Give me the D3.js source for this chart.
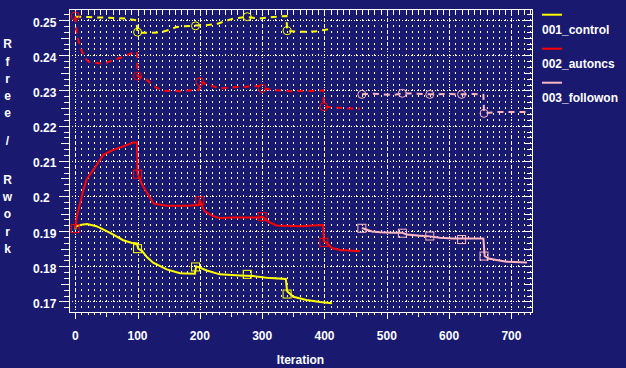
<!DOCTYPE html>
<html><head><meta charset="utf-8">
<script src="https://cdn.jsdelivr.net/npm/d3@7"></script>
<style>
html,body{margin:0;padding:0;background:#191970;}
svg{display:block;}
text{font-family:"Liberation Sans",Arial,Helvetica,sans-serif;font-weight:bold;font-size:12px;fill:#fff;}
</style></head><body>
<svg id="chart" width="626" height="368"></svg>
<script>
// ---------- data ----------
const seriesNames = ["001_control", "002_autoncs", "003_followon"];
const seriesColors = ["#ffff00", "#ff0000", "#ffb6c1"];

const controlIter  = [0,1,10,19,34,56,77,90,99,101,107,115,125,147,168,192,194,200,211,232,264,286,307,338,340,350,371,393,412];
const controlRwork = [0.1905,0.1914,0.1918,0.1920,0.1914,0.1895,0.1874,0.1867,0.1865,0.1850,0.1844,0.1826,0.1810,0.1791,0.1780,0.1779,0.1800,0.1796,0.1788,0.1777,0.1774,0.1772,0.1767,0.1764,0.1729,0.1713,0.1704,0.1698,0.1695];
const controlFreeIter = [0,20,50,80,98,100,115,136,150,163,193,211,227,240,254,275,296,318,339,340,361,385,406];
const controlRfree = [0.2510,0.2509,0.2507,0.2505,0.2500,0.2465,0.2464,0.2465,0.2472,0.2481,0.2485,0.2486,0.2489,0.2497,0.2505,0.2509,0.2505,0.2509,0.2512,0.2469,0.2467,0.2468,0.2474];

const autoIter  = [0,2,4,8,12,18,29,45,61,77,93,99,100,104,109,117,126,147,179,198,200,202,205,208,222,232,254,296,300,312,323,361,382,398,399,404,412,425,446,457];
const autoRwork = [0.1907,0.1935,0.1952,0.1980,0.2010,0.2046,0.2074,0.2117,0.2131,0.2141,0.2152,0.2152,0.2063,0.2046,0.2027,0.2004,0.1978,0.1972,0.1972,0.1974,0.1987,0.1980,0.1965,0.1956,0.1942,0.1937,0.1939,0.1939,0.1941,0.1925,0.1916,0.1914,0.1916,0.1917,0.1871,0.1865,0.1852,0.1846,0.1844,0.1843];
const autoFreeIter = [0,2,5,10,15,21,40,50,61,77,93,99,100,115,125,141,168,189,199,200,211,232,254,275,296,300,323,345,393,398,399,414,436,457];
const autoRfree = [0.2511,0.2470,0.2443,0.2415,0.2395,0.2382,0.2377,0.2379,0.2387,0.2396,0.2408,0.2410,0.2341,0.2330,0.2313,0.2299,0.2298,0.2301,0.2302,0.2325,0.2318,0.2306,0.2309,0.2311,0.2313,0.2306,0.2301,0.2298,0.2299,0.2301,0.2254,0.2252,0.2249,0.2248];

const followIter  = [460,468,476,489,510,525,532,553,569,585,607,639,655,657,663,676,692,725];
const followRwork = [0.1909,0.1904,0.1899,0.1897,0.1895,0.1895,0.1890,0.1887,0.1885,0.1881,0.1879,0.1879,0.1879,0.1829,0.1822,0.1818,0.1813,0.1811];
const followFreeIter = [460,478,510,525,548,569,596,620,639,655,656,663,682,725];
const followRfree = [0.2289,0.2291,0.2287,0.2292,0.2291,0.2289,0.2290,0.2289,0.2290,0.2288,0.2235,0.2237,0.2239,0.2239];

// markers: squares on Rwork, circles on Rfree
const controlMarkIter = [100,193,276,340];
const controlMarkRwork = [0.1850,0.1798,0.1777,0.1721];
const controlMarkRfree = [0.2466,0.2484,0.2510,0.2470];
const autoMarkIter = [0,100,200,300,399];
const autoMarkRwork = [0.1907,0.2062,0.1986,0.1941,0.1868];
const autoMarkRfree = [0.2512,0.2341,0.2325,0.2306,0.2254];
const followMarkIter = [460,525,569,620,656];
const followMarkRwork = [0.1908,0.1894,0.1886,0.1876,0.1829];
const followMarkRfree = [0.2289,0.2292,0.2289,0.2289,0.2235];

const xTickLabels = [0,100,200,300,400,500,600,700];
const yTickLabels = [0.17,0.18,0.19,0.2,0.21,0.22,0.23,0.24,0.25];
const xTitle = "Iteration";
const yTitle = "Rfree / Rwork";

// ---------- drawing ----------
const svg = d3.select("#chart");
const L = 69, R = 532, T = 9, B = 312;
const x = d3.scaleLinear().domain([-10, 733]).range([L, R]);
const y = d3.scaleLinear().domain([0.25, 0.17]).range([20.2, 301.4]);
const yTop = y.invert(T), yBot = y.invert(B);

// minor grid dots at intersections of minor ticks
const xMinor = d3.range(0, 731, 10);
const yStep = 0.01/6;
const yMinor = [];
for (let k = -6; k <= 60; k++) { const v = 0.17 + k*yStep; if (v >= yBot && v <= yTop) yMinor.push(v); }
const gDots = svg.append("g");
xMinor.forEach(xv => {
  yMinor.forEach(yv => {
    gDots.append("rect").attr("x", Math.round(x(xv))).attr("y", Math.round(y(yv))-1)
      .attr("width", 1).attr("height", 2).attr("fill", "#fff");
  });
});
// major dotted grid lines
svg.append("g").selectAll("line").data(yTickLabels).join("line")
  .attr("x1", L).attr("x2", R).attr("y1", d => Math.round(y(d))+0.5).attr("y2", d => Math.round(y(d))+0.5)
  .attr("stroke", "#fff").attr("stroke-width", 1).attr("stroke-dasharray", "1,2");
svg.append("g").selectAll("line").data(xTickLabels).join("line")
  .attr("y1", T).attr("y2", B).attr("x1", d => Math.round(x(d))+0.5).attr("x2", d => Math.round(x(d))+0.5)
  .attr("stroke", "#fff").attr("stroke-width", 1).attr("stroke-dasharray", "1,2");

// ticks
const gT = svg.append("g").attr("stroke", "#fff").attr("stroke-width", 1);
xMinor.forEach(v => {
  const px = Math.round(x(v)) + 0.5;
  const big = v % 100 === 0, mid = v % 50 === 0;
  const lb = big ? 7 : (mid ? 5 : 3);
  const lt = big ? 6 : (mid ? 5 : 4);
  gT.append("line").attr("x1", px).attr("x2", px).attr("y1", B).attr("y2", B + lb);
  gT.append("line").attr("x1", px).attr("x2", px).attr("y1", T).attr("y2", T + lt);
});
yMinor.forEach(v => {
  const py = Math.round(y(v)) + 0.5;
  const kk = Math.round((v - 0.17)/yStep);
  const big = ((kk % 6) + 6) % 6 === 0, mid = ((kk % 3) + 3) % 3 === 0;
  const ll = big ? 10 : (mid ? 8 : 5);
  const lr = big ? 9 : (mid ? 7 : 5);
  gT.append("line").attr("x1", L - ll).attr("x2", L).attr("y1", py).attr("y2", py);
  gT.append("line").attr("x1", R - lr).attr("x2", R).attr("y1", py).attr("y2", py);
});
// frame
svg.append("rect").attr("x", L + 0.5).attr("y", T + 0.5).attr("width", R - L).attr("height", B - T)
  .attr("fill", "none").attr("stroke", "#fff").attr("stroke-width", 1);

// tick labels
svg.append("g").selectAll("text").data(yTickLabels).join("text")
  .attr("x", 33).attr("y", d => y(d) + 6.5).text(d => String(d));
svg.append("g").selectAll("text").data(xTickLabels).join("text")
  .attr("x", d => x(d)).attr("y", 339.5).attr("text-anchor", "middle").text(d => String(d));

// axis titles
svg.append("text").attr("x", 300.5).attr("y", 364).attr("text-anchor", "middle").text(xTitle);
const chars = yTitle.split("");
const yPos = [48.3, 65.5, 82.7, 99.9, 117.1, null, 145, null, 184, 201.2, 218.4, 235.6, 252.8];
chars.forEach((c, i) => {
  if (c === " " || yPos[i] == null) return;
  svg.append("text").attr("x", 7.5).attr("y", yPos[i]).attr("text-anchor", "middle").text(c);
});

// series
const line = d3.line().x(d => x(d[0])).y(d => y(d[1]));
const zip = (a, b) => a.map((v, i) => [v, b[i]]);
const series = [
  {work: zip(controlIter, controlRwork), free: zip(controlFreeIter, controlRfree), mi: controlMarkIter, mw: controlMarkRwork, mf: controlMarkRfree},
  {work: zip(autoIter, autoRwork), free: zip(autoFreeIter, autoRfree), mi: autoMarkIter, mw: autoMarkRwork, mf: autoMarkRfree},
  {work: zip(followIter, followRwork), free: zip(followFreeIter, followRfree), mi: followMarkIter, mw: followMarkRwork, mf: followMarkRfree}
];
series.forEach((s, i) => {
  const col = seriesColors[i];
  const g = svg.append("g");
  g.append("path").attr("d", line(s.free)).attr("fill", "none").attr("stroke", col)
    .attr("stroke-width", 2).attr("stroke-dasharray", "6,5");
  g.append("path").attr("d", line(s.work)).attr("fill", "none").attr("stroke", col)
    .attr("stroke-width", 2);
  s.mi.forEach((xv, j) => {
    g.append("rect").attr("x", x(xv) - 4).attr("y", y(s.mw[j]) - 4).attr("width", 8).attr("height", 8)
      .attr("fill", "none").attr("stroke", col).attr("stroke-width", 1);
    g.append("circle").attr("cx", x(xv)).attr("cy", y(s.mf[j])).attr("r", 4)
      .attr("fill", "none").attr("stroke", col).attr("stroke-width", 1);
  });
});

// legend
const lg = svg.append("g");
seriesNames.forEach((n, i) => {
  lg.append("line").attr("x1", 542).attr("x2", 562).attr("y1", 14.7 + i*34).attr("y2", 14.7 + i*34)
    .attr("stroke", seriesColors[i]).attr("stroke-width", 2);
  lg.append("text").attr("x", 542).attr("y", 34 + i*34).text(n);
});
</script>
</body></html>
